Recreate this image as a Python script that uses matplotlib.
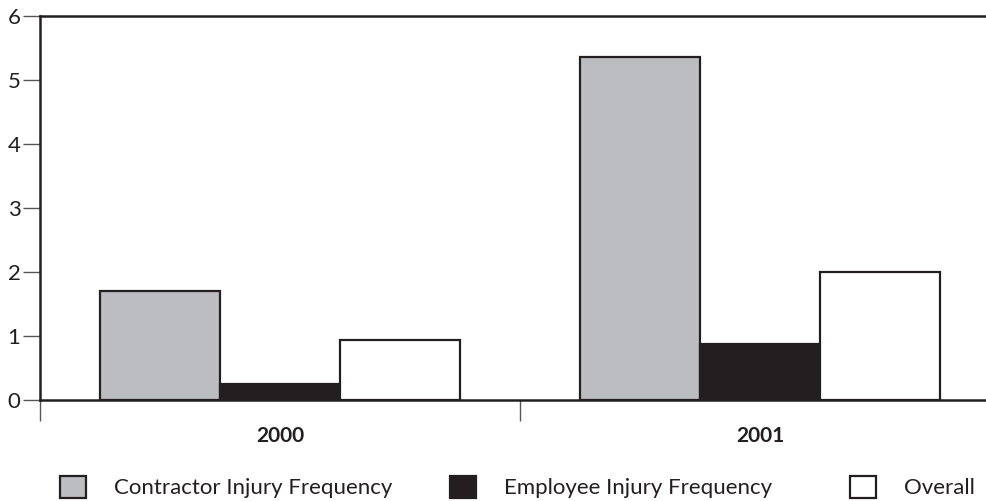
import matplotlib
matplotlib.use("Agg")
import matplotlib.pyplot as plt
from matplotlib.patches import Patch
import numpy as np

# data
years = ["2000", "2001"]
contractor = [1.7, 5.36]
employee = [0.25, 0.87]
overall = [0.93, 2.0]
series_names = ["Contractor Injury Frequency", "Employee Injury Frequency", "Overall"]
series_colors = ["#bcbdc0", "#231f20", "#ffffff"]
edge = "#231f20"

plt.rcParams['font.family'] = ['Lato', 'DejaVu Sans']

fig = plt.figure(figsize=(9.87, 5.01), dpi=100)
ax = fig.add_axes([40 / 987, 101 / 501, 947 / 987, 384 / 501])

centers = np.arange(len(years)) + 0.5
w = 0.25
for i, vals in enumerate([contractor, employee, overall]):
    ax.bar(centers + (i - 1) * w, vals, width=w, color=series_colors[i],
           edgecolor=edge, linewidth=1.6, zorder=3)

ax.set_ylim(0, 6)
ax.set_xlim(0, 947 / 480)
ax.set_yticks(range(0, 7))
ax.tick_params(axis='y', direction='out', length=12, width=1, color='#555555',
               labelsize=16, pad=2, labelcolor='#231f20')

# category boundaries as ticks, year labels as minor ticks
ax.set_xticks([0, 1])
ax.set_xticklabels([])
ax.tick_params(axis='x', which='major', direction='out', length=15, width=1, color='#555555')
ax.set_xticks(centers, minor=True)
ax.set_xticklabels(years, minor=True)
ax.tick_params(axis='x', which='minor', length=0, pad=19, labelsize=15, labelcolor='#231f20')
for lab in ax.get_xticklabels(minor=True):
    lab.set_fontweight('bold')

for s in ['left', 'top', 'bottom']:
    ax.spines[s].set_color(edge)
    ax.spines[s].set_linewidth(1.8)
ax.spines['right'].set_visible(False)

# legend, one entry at a time to follow the spacing of the original
legend_x = [60, 450, 850]
for name, c, lx in zip(series_names, series_colors, legend_x):
    h = Patch(facecolor=c, edgecolor=edge, linewidth=1.6)
    fig.legend([h], [name], loc='center left', bbox_to_anchor=(lx / 987, 14 / 501),
               frameon=False, fontsize=16, handlelength=1.15, handleheight=1.15,
               handletextpad=1.3, borderpad=0, borderaxespad=0, labelcolor='#231f20')

fig.savefig("out.png", dpi=100)
